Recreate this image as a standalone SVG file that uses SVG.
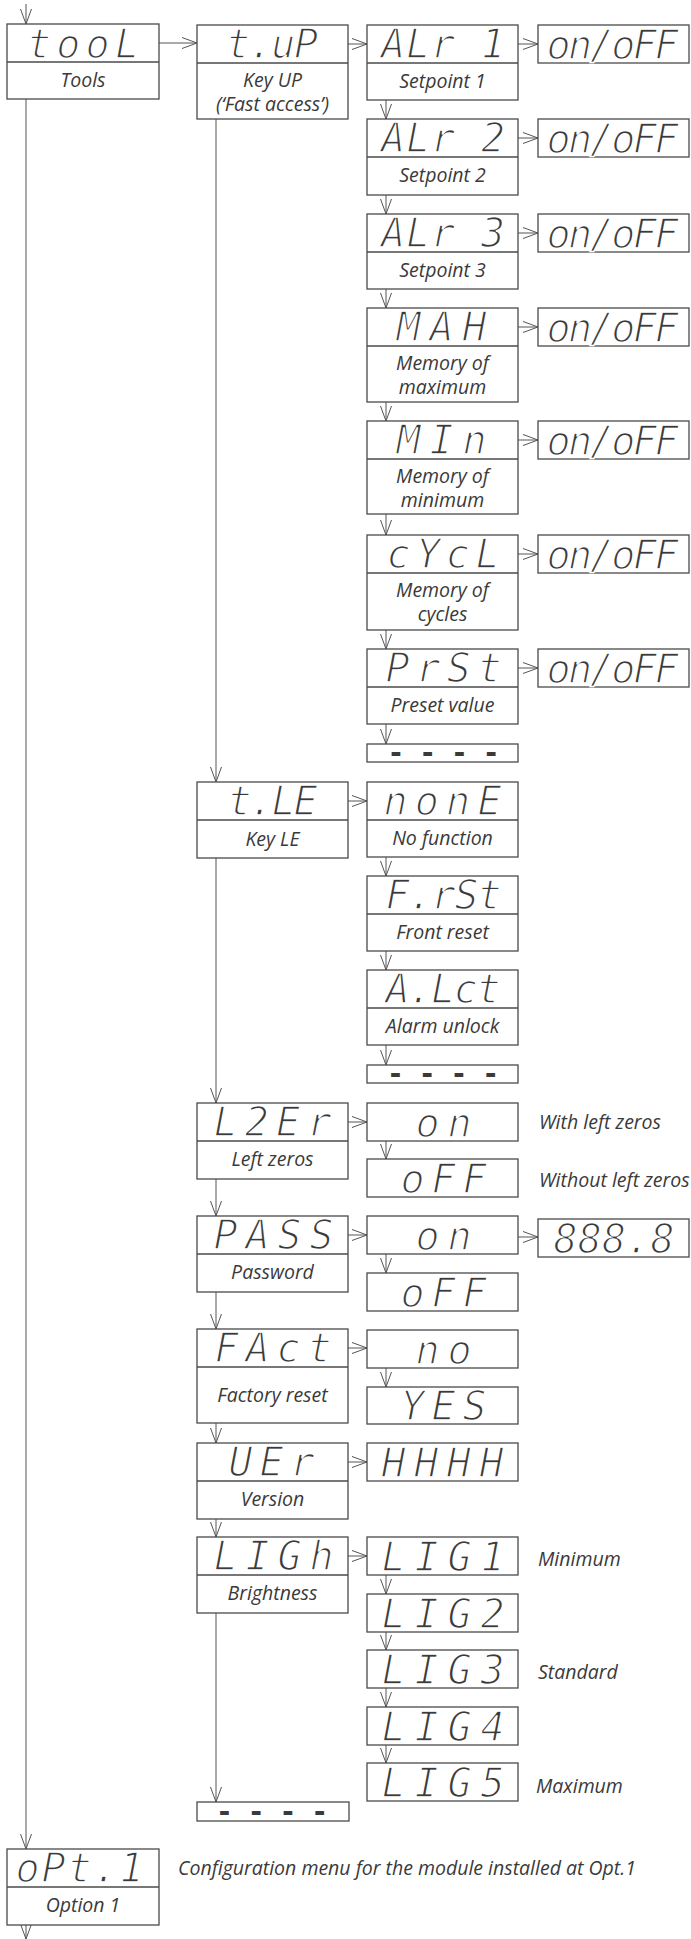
<svg xmlns="http://www.w3.org/2000/svg" width="691" height="1939" viewBox="0 0 691 1939">
<defs>
<style>
.b{fill:#fff;stroke:#4a4a4a;stroke-width:1.3}
.d{stroke:#4a4a4a;stroke-width:1.3}
.s{font-family:"DejaVu Sans Mono",monospace;font-style:oblique;font-size:40px;fill:#3a3a3a;stroke:#fff;stroke-width:1.5px;text-anchor:middle}
.dash{font-family:"DejaVu Sans Mono",monospace;font-weight:bold;font-size:28px;fill:#3a3a3a;text-anchor:middle}
.l{font-family:"Open Sans",sans-serif;font-style:italic;font-size:19.5px;fill:#3a3a3a;text-anchor:middle}
.n{font-family:"Open Sans",sans-serif;font-style:italic;font-size:19.5px;fill:#3a3a3a}
.c line{stroke:#555;stroke-width:1;fill:none}
</style>
<marker id="a" markerWidth="16" markerHeight="12" refX="15" refY="6" orient="auto" markerUnits="userSpaceOnUse"><path d="M0,0.5 L15,6 L0,11.5" fill="none" stroke="#555" stroke-width="1"/></marker>
</defs>
<rect width="691" height="1939" fill="#fff"/>

<g class="c">
<line x1="26" y1="4" x2="26" y2="24" marker-end="url(#a)"/>
<line x1="26" y1="99" x2="26" y2="1849" marker-end="url(#a)"/>
<line x1="26" y1="1925" x2="26" y2="1939" marker-end="url(#a)"/>
<line x1="159" y1="43" x2="197" y2="43" marker-end="url(#a)"/>
<line x1="348" y1="44" x2="367" y2="44" marker-end="url(#a)"/>
<line x1="518" y1="44" x2="538" y2="44" marker-end="url(#a)"/>
<line x1="518" y1="138" x2="538" y2="138" marker-end="url(#a)"/>
<line x1="518" y1="233" x2="538" y2="233" marker-end="url(#a)"/>
<line x1="518" y1="327" x2="538" y2="327" marker-end="url(#a)"/>
<line x1="518" y1="440" x2="538" y2="440" marker-end="url(#a)"/>
<line x1="518" y1="554" x2="538" y2="554" marker-end="url(#a)"/>
<line x1="518" y1="668" x2="538" y2="668" marker-end="url(#a)"/>
<line x1="386" y1="100" x2="386" y2="119" marker-end="url(#a)"/>
<line x1="386" y1="195" x2="386" y2="214" marker-end="url(#a)"/>
<line x1="386" y1="289" x2="386" y2="308" marker-end="url(#a)"/>
<line x1="386" y1="402" x2="386" y2="421" marker-end="url(#a)"/>
<line x1="386" y1="514" x2="386" y2="535" marker-end="url(#a)"/>
<line x1="386" y1="630" x2="386" y2="649" marker-end="url(#a)"/>
<line x1="386" y1="724" x2="386" y2="744" marker-end="url(#a)"/>
<line x1="216" y1="119" x2="216" y2="782" marker-end="url(#a)"/>
<line x1="348" y1="801" x2="367" y2="801" marker-end="url(#a)"/>
<line x1="386" y1="857" x2="386" y2="876" marker-end="url(#a)"/>
<line x1="386" y1="951" x2="386" y2="970" marker-end="url(#a)"/>
<line x1="386" y1="1045" x2="386" y2="1065" marker-end="url(#a)"/>
<line x1="216" y1="858" x2="216" y2="1103" marker-end="url(#a)"/>
<line x1="348" y1="1122" x2="367" y2="1122" marker-end="url(#a)"/>
<line x1="386" y1="1141" x2="386" y2="1159" marker-end="url(#a)"/>
<line x1="216" y1="1179" x2="216" y2="1216" marker-end="url(#a)"/>
<line x1="348" y1="1235" x2="367" y2="1235" marker-end="url(#a)"/>
<line x1="518" y1="1237" x2="538" y2="1237" marker-end="url(#a)"/>
<line x1="386" y1="1254" x2="386" y2="1273" marker-end="url(#a)"/>
<line x1="216" y1="1292" x2="216" y2="1329" marker-end="url(#a)"/>
<line x1="348" y1="1348" x2="367" y2="1348" marker-end="url(#a)"/>
<line x1="386" y1="1368" x2="386" y2="1387" marker-end="url(#a)"/>
<line x1="216" y1="1423" x2="216" y2="1443" marker-end="url(#a)"/>
<line x1="348" y1="1462" x2="367" y2="1462" marker-end="url(#a)"/>
<line x1="216" y1="1519" x2="216" y2="1537" marker-end="url(#a)"/>
<line x1="348" y1="1556" x2="367" y2="1556" marker-end="url(#a)"/>
<line x1="386" y1="1575" x2="386" y2="1594" marker-end="url(#a)"/>
<line x1="386" y1="1632" x2="386" y2="1650" marker-end="url(#a)"/>
<line x1="386" y1="1688" x2="386" y2="1707" marker-end="url(#a)"/>
<line x1="386" y1="1745" x2="386" y2="1763" marker-end="url(#a)"/>
<line x1="216" y1="1613" x2="216" y2="1802" marker-end="url(#a)"/>
</g>

<g id="tool"><rect class="b" x="7" y="24" width="152" height="75"/><line class="d" x1="7" y1="62" x2="159" y2="62"/><text class="s" x="83" y="58" textLength="112" lengthAdjust="spacing">tooL</text><text class="l" x="83" y="87">Tools</text></g>
<g id="tup"><rect class="b" x="197" y="25" width="151" height="94"/><line class="d" x1="197" y1="63" x2="348" y2="63"/><text class="s" x="272" y="58" textLength="92" lengthAdjust="spacing">t.uP</text><text class="l" x="272.5" y="87">Key UP</text><text class="l" x="272.5" y="111">(‘Fast access’)</text></g>

<g id="alr1"><rect class="b" x="367" y="25" width="151" height="75"/><line class="d" x1="367" y1="63" x2="518" y2="63"/><text class="s" x="443" y="58" textLength="124" lengthAdjust="spacing">ALr 1</text><text class="l" x="442.5" y="88">Setpoint 1</text></g>
<g id="onoff1"><rect class="b" x="538" y="25" width="151" height="38"/><text class="s" x="612.5" y="59" textLength="132" lengthAdjust="spacing">on/oFF</text></g>

<g id="alr2"><rect class="b" x="367" y="119" width="151" height="76"/><line class="d" x1="367" y1="157" x2="518" y2="157"/><text class="s" x="443" y="152" textLength="124" lengthAdjust="spacing">ALr 2</text><text class="l" x="442.5" y="182">Setpoint 2</text></g>
<g id="onoff2"><rect class="b" x="538" y="119" width="151" height="38"/><text class="s" x="612.5" y="153" textLength="132" lengthAdjust="spacing">on/oFF</text></g>

<g id="alr3"><rect class="b" x="367" y="214" width="151" height="75"/><line class="d" x1="367" y1="252" x2="518" y2="252"/><text class="s" x="443" y="247" textLength="124" lengthAdjust="spacing">ALr 3</text><text class="l" x="442.5" y="277">Setpoint 3</text></g>
<g id="onoff3"><rect class="b" x="538" y="214" width="151" height="38"/><text class="s" x="612.5" y="248" textLength="132" lengthAdjust="spacing">on/oFF</text></g>

<g id="max"><rect class="b" x="367" y="308" width="151" height="94"/><line class="d" x1="367" y1="346" x2="518" y2="346"/><text class="s" x="441.5" y="341" textLength="90" lengthAdjust="spacing">MAH</text><text class="l" x="442.5" y="370">Memory of</text><text class="l" x="442.5" y="394">maximum</text></g>
<g id="onoff4"><rect class="b" x="538" y="308" width="151" height="38"/><text class="s" x="612.5" y="342" textLength="132" lengthAdjust="spacing">on/oFF</text></g>

<g id="min"><rect class="b" x="367" y="421" width="151" height="93"/><line class="d" x1="367" y1="459" x2="518" y2="459"/><text class="s" x="441.5" y="454" textLength="90" lengthAdjust="spacing">MIn</text><text class="l" x="442.5" y="483">Memory of</text><text class="l" x="442.5" y="507">minimum</text></g>
<g id="onoff5"><rect class="b" x="538" y="421" width="151" height="38"/><text class="s" x="612.5" y="455" textLength="132" lengthAdjust="spacing">on/oFF</text></g>

<g id="cycl"><rect class="b" x="367" y="535" width="151" height="95"/><line class="d" x1="367" y1="573" x2="518" y2="573"/><text class="s" x="443" y="568" textLength="113" lengthAdjust="spacing">cYcL</text><text class="l" x="442.5" y="597">Memory of</text><text class="l" x="442.5" y="621">cycles</text></g>
<g id="onoff6"><rect class="b" x="538" y="535" width="151" height="38"/><text class="s" x="612.5" y="569" textLength="132" lengthAdjust="spacing">on/oFF</text></g>

<g id="prst"><rect class="b" x="367" y="649" width="151" height="75"/><line class="d" x1="367" y1="687" x2="518" y2="687"/><text class="s" x="443.5" y="682" textLength="116" lengthAdjust="spacing">PrSt</text><text class="l" x="442.5" y="712">Preset value</text></g>
<g id="onoff7"><rect class="b" x="538" y="649" width="151" height="38"/><text class="s" x="612.5" y="683" textLength="132" lengthAdjust="spacing">on/oFF</text></g>

<g id="end1"><rect class="b" x="367" y="744" width="151" height="18"/><text class="dash" x="443.5" y="762" textLength="112" lengthAdjust="spacing">----</text></g>

<g id="tle"><rect class="b" x="197" y="782" width="151" height="76"/><line class="d" x1="197" y1="820" x2="348" y2="820"/><text class="s" x="272.5" y="815" textLength="90" lengthAdjust="spacing">t.LE</text><text class="l" x="272.5" y="846">Key LE</text></g>
<g id="none"><rect class="b" x="367" y="782" width="151" height="75"/><line class="d" x1="367" y1="820" x2="518" y2="820"/><text class="s" x="442.5" y="815" textLength="118" lengthAdjust="spacing">nonE</text><text class="l" x="442.5" y="845">No function</text></g>
<g id="frst"><rect class="b" x="367" y="876" width="151" height="75"/><line class="d" x1="367" y1="914" x2="518" y2="914"/><text class="s" x="443.5" y="909" textLength="116" lengthAdjust="spacing">F.rSt</text><text class="l" x="442.5" y="939">Front reset</text></g>
<g id="alct"><rect class="b" x="367" y="970" width="151" height="75"/><line class="d" x1="367" y1="1008" x2="518" y2="1008"/><text class="s" x="443" y="1003" textLength="115" lengthAdjust="spacing">A.Lct</text><text class="l" x="442.5" y="1033">Alarm unlock</text></g>
<g id="end2"><rect class="b" x="367" y="1065" width="151" height="18"/><text class="dash" x="443" y="1083" textLength="112" lengthAdjust="spacing">----</text></g>

<g id="l2er"><rect class="b" x="197" y="1103" width="151" height="76"/><line class="d" x1="197" y1="1141" x2="348" y2="1141"/><text class="s" x="272.5" y="1136" textLength="118" lengthAdjust="spacing">L2Er</text><text class="l" x="272.5" y="1166">Left zeros</text></g>
<g id="l2on"><rect class="b" x="367" y="1103" width="151" height="38"/><text class="s" x="443.5" y="1137" textLength="56" lengthAdjust="spacing">on</text></g>
<g id="l2off"><rect class="b" x="367" y="1159" width="151" height="38"/><text class="s" x="443.5" y="1193" textLength="86" lengthAdjust="spacing">oFF</text></g>
<text class="n" x="539" y="1129">With left zeros</text>
<text class="n" x="539" y="1187">Without left zeros</text>

<g id="pass"><rect class="b" x="197" y="1216" width="151" height="76"/><line class="d" x1="197" y1="1254" x2="348" y2="1254"/><text class="s" x="273.5" y="1249" textLength="120" lengthAdjust="spacing">PASS</text><text class="l" x="272.5" y="1279">Password</text></g>
<g id="pson"><rect class="b" x="367" y="1216" width="151" height="38"/><text class="s" x="443.5" y="1250" textLength="56" lengthAdjust="spacing">on</text></g>
<g id="pscode"><rect class="b" x="538" y="1219" width="151" height="38"/><text class="s" x="614" y="1253" textLength="121" lengthAdjust="spacing">888.8</text></g>
<g id="psoff"><rect class="b" x="367" y="1273" width="151" height="38"/><text class="s" x="443.5" y="1307" textLength="86" lengthAdjust="spacing">oFF</text></g>

<g id="fact"><rect class="b" x="197" y="1329" width="151" height="94"/><line class="d" x1="197" y1="1367" x2="348" y2="1367"/><text class="s" x="273" y="1362" textLength="117" lengthAdjust="spacing">FAct</text><text class="l" x="272.5" y="1402">Factory reset</text></g>
<g id="fno"><rect class="b" x="367" y="1330" width="151" height="38"/><text class="s" x="443.5" y="1364" textLength="56" lengthAdjust="spacing">no</text></g>
<g id="fyes"><rect class="b" x="367" y="1387" width="151" height="37"/><text class="s" x="443.5" y="1420" textLength="86" lengthAdjust="spacing">YES</text></g>

<g id="uer"><rect class="b" x="197" y="1443" width="151" height="76"/><line class="d" x1="197" y1="1481" x2="348" y2="1481"/><text class="s" x="271.5" y="1476" textLength="86" lengthAdjust="spacing">UEr</text><text class="l" x="272.5" y="1506">Version</text></g>
<g id="hhhh"><rect class="b" x="367" y="1443" width="151" height="38"/><text class="s" x="442.5" y="1477" textLength="122" lengthAdjust="spacing">HHHH</text></g>

<g id="ligh"><rect class="b" x="197" y="1537" width="151" height="76"/><line class="d" x1="197" y1="1575" x2="348" y2="1575"/><text class="s" x="273.5" y="1570" textLength="120" lengthAdjust="spacing">LIGh</text><text class="l" x="272.5" y="1600">Brightness</text></g>
<g id="lig1"><rect class="b" x="367" y="1537" width="151" height="38"/><text class="s" x="443" y="1571" textLength="123" lengthAdjust="spacing">LIG1</text></g>
<g id="lig2"><rect class="b" x="367" y="1594" width="151" height="38"/><text class="s" x="443" y="1628" textLength="123" lengthAdjust="spacing">LIG2</text></g>
<g id="lig3"><rect class="b" x="367" y="1650" width="151" height="38"/><text class="s" x="443" y="1684" textLength="123" lengthAdjust="spacing">LIG3</text></g>
<g id="lig4"><rect class="b" x="367" y="1707" width="151" height="38"/><text class="s" x="443" y="1741" textLength="123" lengthAdjust="spacing">LIG4</text></g>
<g id="lig5"><rect class="b" x="367" y="1763" width="151" height="38"/><text class="s" x="443" y="1797" textLength="123" lengthAdjust="spacing">LIG5</text></g>
<text class="n" x="538" y="1566">Minimum</text>
<text class="n" x="538" y="1679">Standard</text>
<text class="n" x="536" y="1793">Maximum</text>

<g id="end3"><rect class="b" x="197" y="1802" width="152" height="19"/><text class="dash" x="272" y="1821" textLength="112" lengthAdjust="spacing">----</text></g>

<g id="opt1"><rect class="b" x="7" y="1849" width="152" height="76"/><line class="d" x1="7" y1="1887" x2="159" y2="1887"/><text class="s" x="79.5" y="1882" textLength="128" lengthAdjust="spacing">oPt.1</text><text class="l" x="83" y="1912">Option 1</text></g>
<text class="n" x="178" y="1875">Configuration menu for the module installed at Opt.1</text>
</svg>
